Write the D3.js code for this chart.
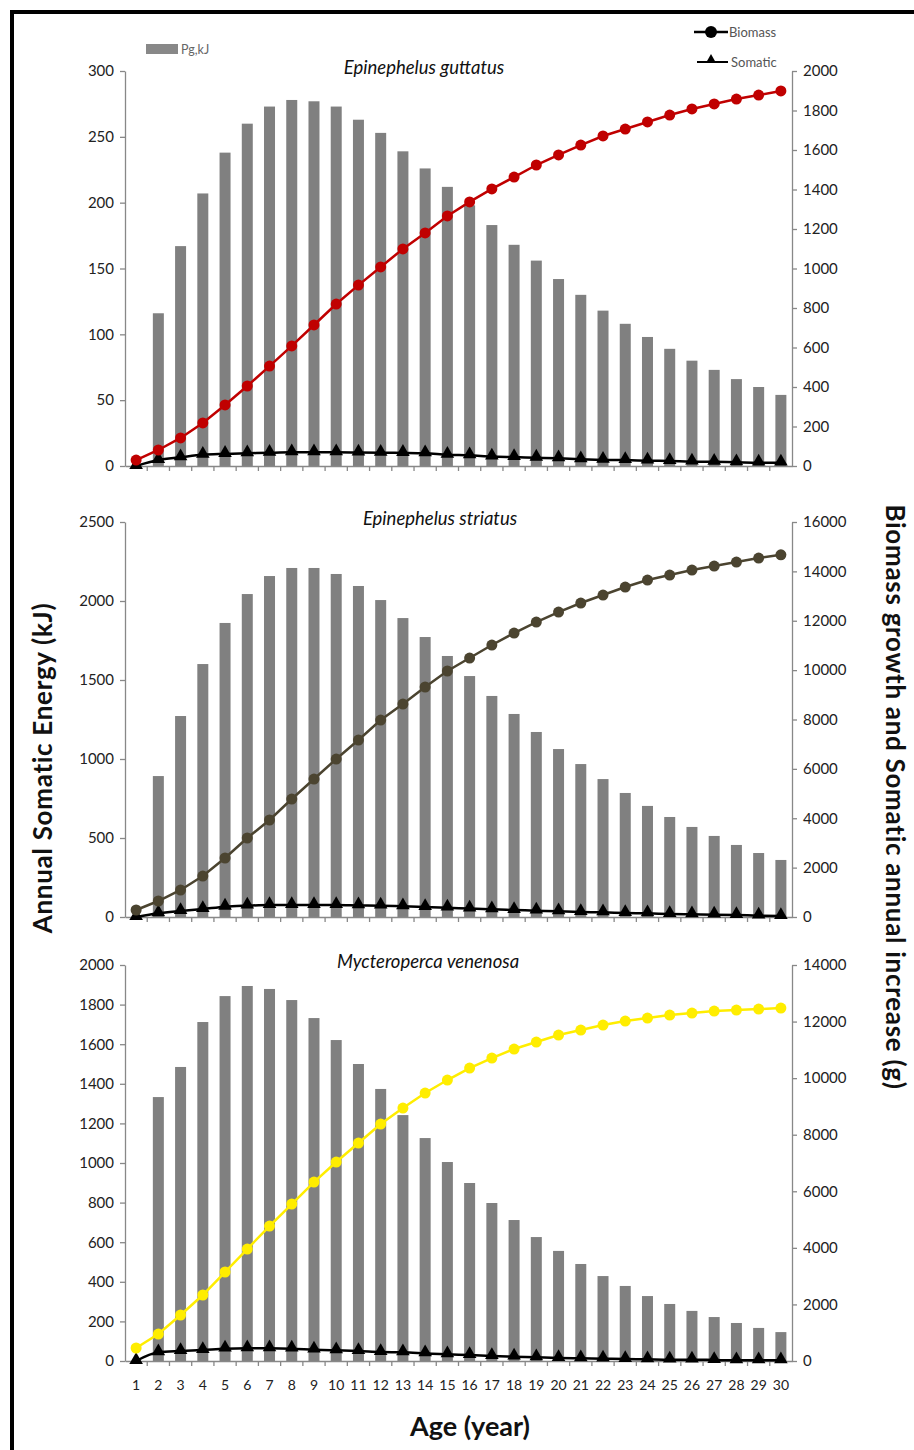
<!DOCTYPE html>
<html>
<head>
<meta charset="utf-8">
<script src="https://cdn.jsdelivr.net/npm/d3@7"></script>
<style>
  body { margin: 0; background: #fff; }
  svg text { font-family: Lato, "Open Sans", sans-serif; }
</style>
</head>
<body>
<div id="chart"></div>
<script>
//----------------------------DATA------------------------------//
const ages = d3.range(1, 31);

const gutPg = [0, 116, 167, 207, 238, 260, 273, 278, 277, 273, 263, 253, 239, 226, 212,
  198, 183, 168, 156, 142, 130, 118, 108, 98, 89, 80, 73, 66, 60, 54];
const gutBiomass = [30, 81, 142, 218, 309, 405, 506, 608, 714, 820, 916, 1008, 1099, 1180, 1266,
  1337, 1403, 1463, 1524, 1575, 1625, 1671, 1706, 1742, 1777, 1808, 1833, 1858, 1878, 1899];
const gutSomatic = [0, 30, 44, 57, 61, 64, 67, 69, 69, 69, 68, 67, 66, 64, 57,
  54, 48, 45, 42, 39, 34, 31, 30, 27, 25, 22, 21, 19, 17, 17];

const strPg = [0, 892, 1272, 1601, 1861, 2044, 2158, 2209, 2209, 2171, 2095, 2006, 1892, 1772, 1652,
  1525, 1399, 1285, 1171, 1063, 968, 873, 785, 703, 633, 570, 513, 456, 405, 361];
const strBiomass = [284, 648, 1094, 1660, 2390, 3200, 3929, 4779, 5589, 6399, 7169, 7979, 8627, 9316, 9964,
  10490, 11017, 11503, 11948, 12353, 12718, 13042, 13366, 13649, 13852, 14054, 14216, 14378, 14540, 14670];
const strSomatic = [0, 150, 243, 324, 417, 458, 486, 486, 486, 486, 470, 458, 432, 405, 377,
  340, 310, 283, 256, 229, 202, 189, 162, 148, 121, 108, 95, 81, 54, 40];

const venPg = [0, 1333, 1485, 1712, 1843, 1894, 1879, 1823, 1732, 1621, 1500, 1374, 1242, 1126, 1005,
  899, 798, 712, 626, 556, 490, 429, 379, 328, 288, 253, 222, 192, 167, 146];
const venBiomass = [460, 954, 1626, 2333, 3146, 3959, 4772, 5550, 6327, 7034, 7706, 8378, 8943, 9474, 9933,
  10357, 10711, 11029, 11276, 11524, 11700, 11877, 12018, 12124, 12230, 12301, 12372, 12407, 12443, 12478];
const venSomatic = [0, 307, 354, 389, 436, 448, 448, 436, 400, 377, 354, 318, 307, 271, 236,
  212, 177, 153, 130, 106, 94, 82, 71, 59, 47, 47, 35, 24, 24, 24];

const species = ["Epinephelus guttatus", "Epinephelus striatus", "Mycteroperca venenosa"];
const leftMax = [300, 2500, 2000];
const leftStep = [50, 500, 200];
const rightMax = [2000, 16000, 14000];
const rightStep = [200, 2000, 2000];
const biomassColors = ["#c00000", "#4b4430", "#ffed00"];

//-------------------------PREPARATION--------------------------//
const W = 914, H = 1450;
const svg = d3.select("#chart").append("svg")
    .attr("width", W)
    .attr("height", H);

// frame
svg.append("line").attr("x1", 10).attr("x2", W).attr("y1", 12).attr("y2", 12)
    .style("stroke", "#000").style("stroke-width", 4);
svg.append("line").attr("x1", 12).attr("x2", 12).attr("y1", 10).attr("y2", H)
    .style("stroke", "#000").style("stroke-width", 4);

const xScale = d3.scaleBand().domain(ages).range([125, 792]);
const cx = function(a) { return xScale(a) + xScale.bandwidth() / 2; };

const panels = [
  { top: 71, bottom: 466, pg: gutPg, bio: gutBiomass, som: gutSomatic, titleX: 424 },
  { top: 522, bottom: 917, pg: strPg, bio: strBiomass, som: strSomatic, titleX: 440 },
  { top: 965, bottom: 1361, pg: venPg, bio: venBiomass, som: venSomatic, titleX: 428 }
];

const triangle = d3.symbol().type(d3.symbolTriangle).size(80);

panels.forEach(function(p, i) {
  const yLeft = d3.scaleLinear().domain([0, leftMax[i]]).range([p.bottom, p.top]);
  const yRight = d3.scaleLinear().domain([0, rightMax[i]]).range([p.bottom, p.top]);
  const g = svg.append("g");

  // bars
  g.selectAll(".bar")
      .data(ages.filter(function(a, k) { return p.pg[k] > 0; }))
      .enter()
      .append("rect")
      .attr("x", function(a) { return cx(a) - 5.5; })
      .attr("width", 11)
      .attr("y", function(a) { return yLeft(p.pg[a - 1]); })
      .attr("height", function(a) { return p.bottom - yLeft(p.pg[a - 1]); })
      .style("fill", "#808080");

  // axes
  const leftAxis = d3.axisLeft(yLeft)
      .tickValues(d3.range(0, leftMax[i] + 1, leftStep[i]))
      .tickFormat(d3.format("d"))
      .tickSize(5).tickPadding(6).tickSizeOuter(0);
  const la = g.append("g")
      .attr("transform", "translate(125,0)")
      .call(leftAxis);

  const rightAxis = d3.axisRight(yRight)
      .tickValues(d3.range(0, rightMax[i] + 1, rightStep[i]))
      .tickFormat(d3.format("d"))
      .tickSize(5).tickPadding(6).tickSizeOuter(0);
  const ra = g.append("g")
      .attr("transform", "translate(792,0)")
      .call(rightAxis);

  const bottomAxis = d3.axisBottom(xScale).tickSize(0).tickSizeOuter(0).tickPadding(19);
  const ba = g.append("g")
      .attr("transform", "translate(0," + p.bottom + ")")
      .call(bottomAxis);
  if (i < 2) ba.selectAll("text").remove();
  // category boundary ticks
  ba.selectAll(".btick")
      .data(ages.slice(1))
      .enter()
      .append("line")
      .attr("x1", function(a) { return xScale(a); })
      .attr("x2", function(a) { return xScale(a); })
      .attr("y1", 0).attr("y2", 5);

  [la, ra, ba].forEach(function(ax) {
    ax.selectAll("path, line").style("stroke", "#888").style("stroke-width", 1.3);
    ax.selectAll("text").style("font-family", "Lato, sans-serif")
        .style("font-size", "15px").style("fill", "#222");
  });
  ba.selectAll("text").style("font-size", "14px");

  // somatic line
  const somLine = d3.line()
      .curve(d3.curveMonotoneX)
      .x(cx)
      .y(function(a) { return yRight(p.som[a - 1]); });
  g.append("path")
      .attr("d", somLine(ages))
      .style("fill", "none")
      .style("stroke", "#000")
      .style("stroke-width", 2.5);
  g.selectAll(".tri")
      .data(ages)
      .enter()
      .append("path")
      .attr("d", triangle)
      .attr("transform", function(a) {
        return "translate(" + cx(a) + "," + (yRight(p.som[a - 1]) - 1) + ")";
      })
      .style("fill", "#000");

  // biomass line
  const bioLine = d3.line()
      .x(cx)
      .y(function(a) { return yRight(p.bio[a - 1]); });
  g.append("path")
      .attr("d", bioLine(ages))
      .style("fill", "none")
      .style("stroke", biomassColors[i])
      .style("stroke-width", 2.5);
  g.selectAll(".dot")
      .data(ages)
      .enter()
      .append("circle")
      .attr("cx", cx)
      .attr("cy", function(a) { return yRight(p.bio[a - 1]); })
      .attr("r", 5.5)
      .style("fill", biomassColors[i]);

  // species title
  g.append("text")
      .attr("x", p.titleX)
      .attr("y", p.top + 3)
      .attr("text-anchor", "middle")
      .style("font-style", "italic")
      .style("font-size", "18.5px")
      .style("fill", "#111")
      .text(species[i]);
});

//----------------------------LEGEND----------------------------//
svg.append("rect").attr("x", 146).attr("y", 44).attr("width", 32).attr("height", 10)
    .style("fill", "#888");
svg.append("text").attr("x", 181).attr("y", 54).text("Pg,kJ")
    .style("font-size", "12.5px").style("fill", "#666");

svg.append("line").attr("x1", 694).attr("x2", 728).attr("y1", 32).attr("y2", 32)
    .style("stroke", "#000").style("stroke-width", 2.5);
svg.append("circle").attr("cx", 711).attr("cy", 32).attr("r", 6).style("fill", "#000");
svg.append("text").attr("x", 729).attr("y", 37).text("Biomass")
    .style("font-size", "13px").style("fill", "#555");

svg.append("line").attr("x1", 697).attr("x2", 728).attr("y1", 62).attr("y2", 62)
    .style("stroke", "#000").style("stroke-width", 2);
svg.append("path").attr("d", d3.symbol().type(d3.symbolTriangle).size(45))
    .attr("transform", "translate(711,60)").style("fill", "#000");
svg.append("text").attr("x", 731).attr("y", 67).text("Somatic")
    .style("font-size", "13px").style("fill", "#555");

//---------------------------TITLES-----------------------------//
svg.append("text")
    .attr("transform", "translate(52,768) rotate(-90)")
    .attr("text-anchor", "middle")
    .style("font-weight", "bold")
    .style("font-size", "26px")
    .style("letter-spacing", "0.7px")
    .style("fill", "#111")
    .text("Annual Somatic Energy (kJ)");

svg.append("text")
    .attr("transform", "translate(886,797) rotate(90)")
    .attr("text-anchor", "middle")
    .style("font-weight", "bold")
    .style("font-size", "26px")
    .style("letter-spacing", "0.7px")
    .style("fill", "#111")
    .text("Biomass growth and Somatic annual increase (g)");

svg.append("text")
    .attr("x", 470)
    .attr("y", 1436)
    .attr("text-anchor", "middle")
    .style("font-weight", "bold")
    .style("font-size", "27px")
    .style("fill", "#111")
    .text("Age (year)");
</script>
</body>
</html>
